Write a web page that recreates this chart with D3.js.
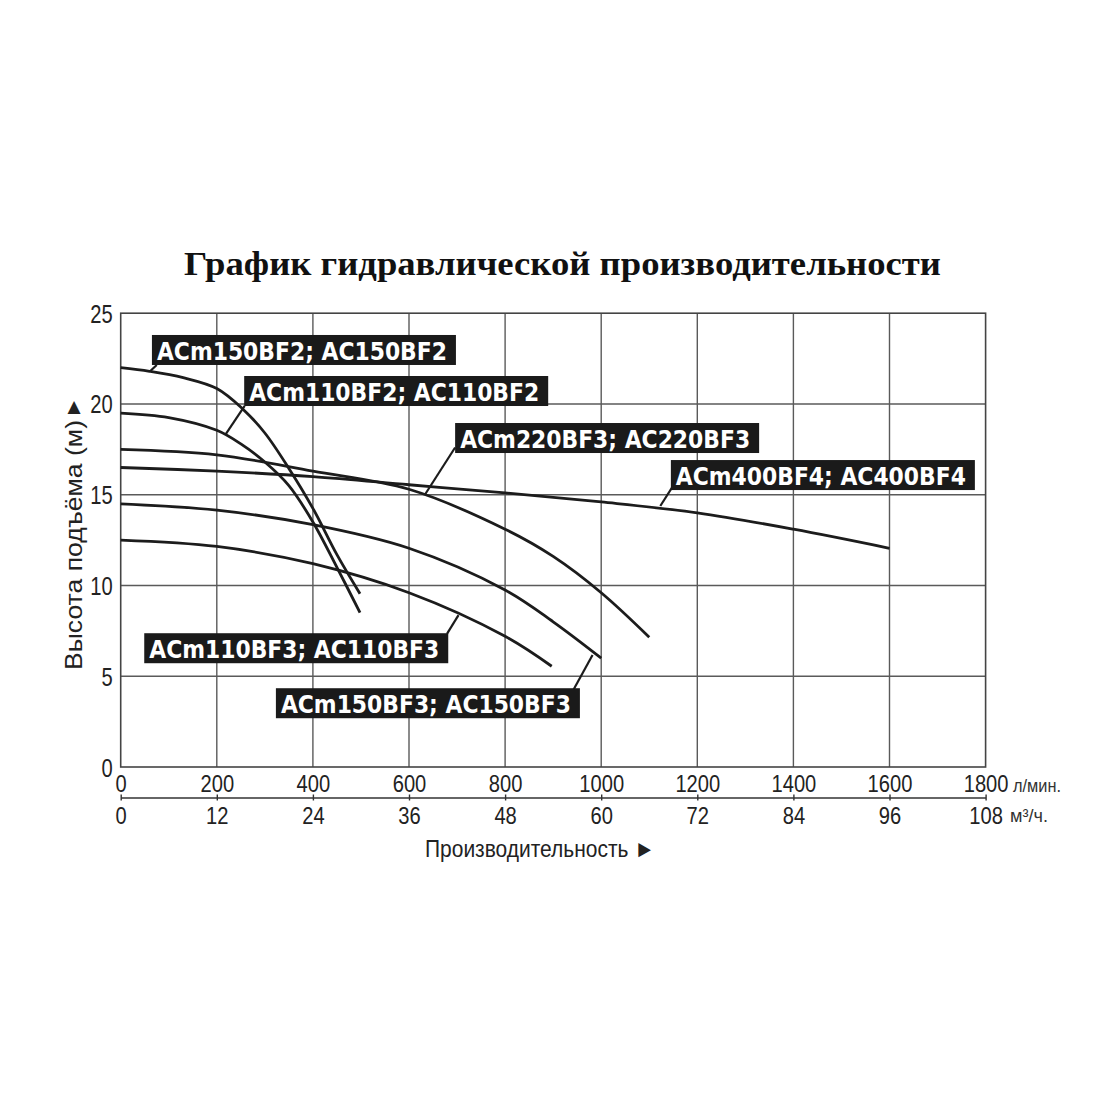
<!DOCTYPE html>
<html><head><meta charset="utf-8">
<script src="https://cdn.jsdelivr.net/npm/d3@7"></script>
<style>body{margin:0;background:#fff}</style>
</head><body><svg id="c" width="1100" height="1100"></svg>
<script>
const title = "График гидравлической производительности";
const yTitle = "Высота подъёма (м)";
const yArrow = "▲";
const xTitle = "Производительность ►";
const flowTicks = [0,200,400,600,800,1000,1200,1400,1600,1800];
const m3hTicks = [0,12,24,36,48,60,72,84,96,108];
const headTicks = [0,5,10,15,20,25];
const flowUnit = "л/мин.";
const m3hUnit = "м³/ч.";

// pump curves: flow (l/min) and head (m)
const flow150BF2 = [0,60,130,200,255,300,350,400,450,498];
const head150BF2 = [22.0,21.8,21.45,20.85,19.7,18.4,16.45,14.25,11.7,9.55];
const flow110BF2 = [0,100,200,250,300,350,400,450,498];
const head110BF2 = [19.5,19.25,18.55,17.8,16.8,15.5,13.5,11.0,8.5];
const flow220BF3 = [0,200,400,600,800,900,1000,1100];
const head220BF3 = [17.5,17.2,16.3,15.3,13.1,11.6,9.6,7.15];
const flow400BF4 = [0,200,400,600,800,1000,1200,1400,1600];
const head400BF4 = [16.5,16.3,16.0,15.55,15.1,14.6,14.0,13.1,12.05];
const flow150BF3 = [0,200,400,600,800,900,1000];
const head150BF3 = [14.5,14.15,13.35,12.05,9.75,8.0,6.0];
const flow110BF3 = [0,200,400,600,800,897];
const head110BF3 = [12.5,12.15,11.2,9.6,7.2,5.55];

const seriesNames = ["ACm150BF2; AC150BF2","ACm110BF2; AC110BF2","ACm220BF3; AC220BF3",
                     "ACm400BF4; AC400BF4","ACm150BF3; AC150BF3","ACm110BF3; AC110BF3"];
// label annotation anchors in data units: point on curve, leader end at box, box top-left
const labelCurveFlow = [61,219,633,1123,982,703];
const labelCurveHead = [21.8,18.35,15.0,14.38,6.17,8.37];
const labelLeaderFlow = [75,258,696,1150,942,679];
const labelLeaderHead = [22.15,19.89,17.6,15.5,4.24,7.33];
const labelBoxFlow = [65,257,696,1145,323,49];
const labelBoxHead = [23.8,21.54,18.95,16.91,4.34,7.37];

const series = [
  {f:flow150BF2,h:head150BF2},{f:flow110BF2,h:head110BF2},{f:flow220BF3,h:head220BF3},
  {f:flow400BF4,h:head400BF4},{f:flow150BF3,h:head150BF3},{f:flow110BF3,h:head110BF3}
].map(s => s.f.map((v,i)=>[v,s.h[i]]));

const svg = d3.select("#c");
const x = d3.scaleLinear().domain([0,1800]).range([120.7,985.6]);
const x2 = d3.scaleLinear().domain([0,108]).range([120.7,985.6]);
const y = d3.scaleLinear().domain([0,25]).range([767,313.2]);
const sans = "'Liberation Sans',Arial,sans-serif";
const gridCol = "#5a5a5a", ink = "#1c1c1c";
const narrowFit = sel => sel.attr("textLength", function(){ return this.textContent.length*11.2; })
  .attr("lengthAdjust","spacingAndGlyphs");

// title
svg.append("text").attr("x",184).attr("y",275).attr("textLength",757).attr("lengthAdjust","spacingAndGlyphs")
  .style("font-family","'Liberation Serif','Times New Roman',serif").style("font-weight","bold")
  .style("font-size","34px").attr("fill","#111").text(title);

// grid
const g = svg.append("g");
g.selectAll("line.v").data(flowTicks.slice(1,-1)).join("line")
  .attr("x1",d=>x(d)).attr("x2",d=>x(d)).attr("y1",y(0)).attr("y2",y(25))
  .attr("stroke",gridCol).attr("stroke-width",1.4);
g.selectAll("line.h").data(headTicks.slice(1,-1)).join("line")
  .attr("y1",d=>y(d)).attr("y2",d=>y(d)).attr("x1",x(0)).attr("x2",x(1800))
  .attr("stroke",gridCol).attr("stroke-width",1.4);
g.append("rect").attr("x",x(0)).attr("y",y(25)).attr("width",x(1800)-x(0)).attr("height",y(0)-y(25))
  .attr("fill","none").attr("stroke","#444").attr("stroke-width",1.6);

// y axis labels
const ya = svg.append("g").attr("transform",`translate(${x(0)},0)`)
  .call(d3.axisLeft(y).tickValues(headTicks).tickFormat(d3.format("d")).tickSize(0).tickPadding(8));
ya.select(".domain").remove();
ya.selectAll("text").style("font-family",sans).style("font-size","25px").attr("fill","#222").attr("dy","0.36em").call(narrowFit);

// x axis 1 (l/min)
const xa = svg.append("g").attr("transform",`translate(0,${y(0)})`)
  .call(d3.axisBottom(x).tickValues(flowTicks).tickFormat(d3.format("d")).tickSize(0).tickPadding(8));
xa.select(".domain").remove();
xa.selectAll("text").style("font-family",sans).style("font-size","24px").attr("fill","#222").attr("dy","0.72em").call(narrowFit);

// x axis 2 (m3/h)
const xb = svg.append("g").attr("transform",`translate(0,797.5)`)
  .call(d3.axisBottom(x2).tickValues(m3hTicks).tickFormat(d3.format("d")).tickSizeOuter(0).tickSizeInner(3).tickPadding(6));
xb.select(".domain").attr("stroke","#333").attr("stroke-width",1.6);
xb.selectAll(".tick line").attr("y1",-3).attr("y2",3).attr("stroke","#333").attr("stroke-width",1.4);
xb.selectAll("text").style("font-family",sans).style("font-size","24px").attr("fill","#222").attr("dy","0.72em").call(narrowFit);

// units
svg.append("text").attr("x",1013).attr("y",792).attr("textLength",48).attr("lengthAdjust","spacingAndGlyphs")
  .style("font-family",sans).style("font-size","18px").attr("fill","#333").text(flowUnit);
svg.append("text").attr("x",1010).attr("y",822).attr("textLength",38).attr("lengthAdjust","spacingAndGlyphs")
  .style("font-family",sans).style("font-size","18px").attr("fill","#333").text(m3hUnit);

// axis titles
svg.append("text").attr("text-anchor","middle").attr("x",540).attr("y",857)
  .attr("textLength",230).attr("lengthAdjust","spacingAndGlyphs")
  .style("font-family",sans).style("font-size","24px").attr("fill","#222").text(xTitle);
svg.append("text").attr("text-anchor","middle").attr("transform","translate(82,545) rotate(-90)")
  .attr("textLength",250).attr("lengthAdjust","spacingAndGlyphs")
  .style("font-family",sans).style("font-size","24px").attr("fill","#222").text(yTitle);
svg.append("text").attr("text-anchor","middle").attr("x",74).attr("y",412)
  .style("font-family","'DejaVu Sans',sans-serif").style("font-size","17px").attr("fill","#222").text(yArrow);

// curves
const line = d3.line().x(d=>x(d[0])).y(d=>y(d[1])).curve(d3.curveCatmullRom.alpha(0.5));
svg.append("g").selectAll("path").data(series).join("path")
  .attr("d",line).attr("fill","none").attr("stroke",ink).attr("stroke-width",2.8);

// labels
const lab = svg.append("g").selectAll("g").data(seriesNames).join("g");
lab.append("line")
  .attr("x1",(d,i)=>x(labelCurveFlow[i])).attr("y1",(d,i)=>y(labelCurveHead[i]))
  .attr("x2",(d,i)=>x(labelLeaderFlow[i])).attr("y2",(d,i)=>y(labelLeaderHead[i]))
  .attr("stroke",ink).attr("stroke-width",2.2);
lab.append("rect")
  .attr("x",(d,i)=>x(labelBoxFlow[i])).attr("y",(d,i)=>y(labelBoxHead[i]))
  .attr("width",304).attr("height",30).attr("fill","#1a1a1a");
lab.append("text")
  .attr("x",(d,i)=>x(labelBoxFlow[i])+5).attr("y",(d,i)=>y(labelBoxHead[i])+25)
  .attr("textLength",290).attr("lengthAdjust","spacingAndGlyphs")
  .style("font-family","'DejaVu Sans Condensed','DejaVu Sans',sans-serif").style("font-weight","bold")
  .style("font-size","25px").attr("fill","#fff").text(d=>d);
</script></body></html>
